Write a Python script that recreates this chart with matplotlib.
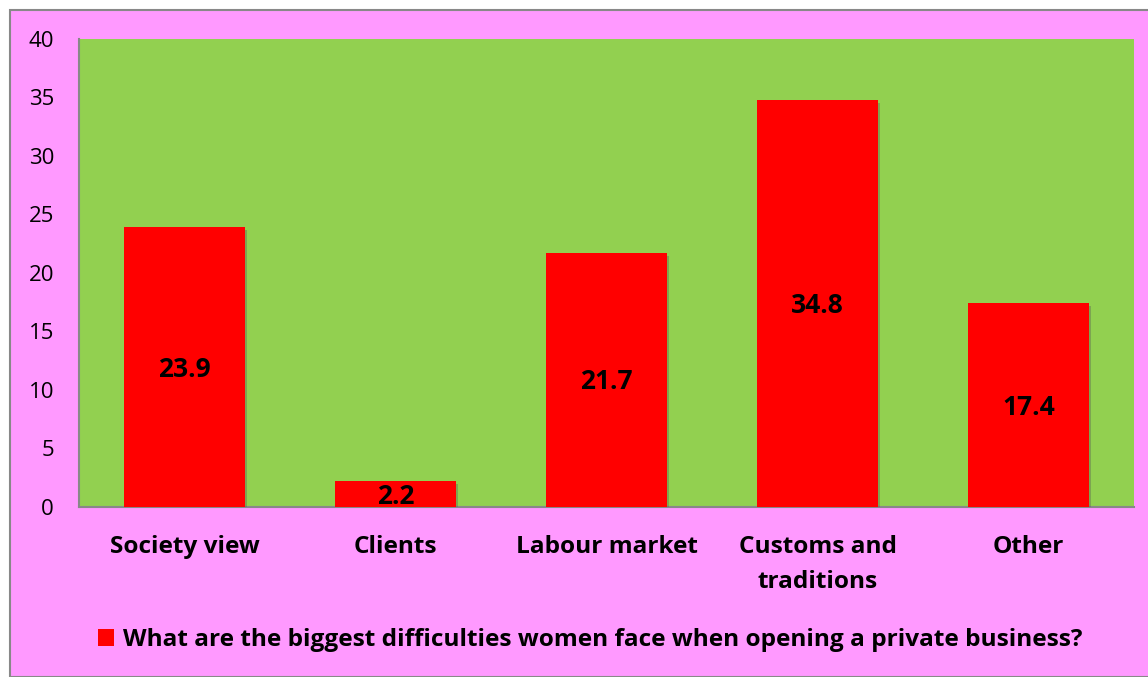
import matplotlib
matplotlib.use("Agg")
import matplotlib.pyplot as plt
from matplotlib.patches import Rectangle, Patch
import matplotlib.patheffects as pe

categories = ["Society view", "Clients", "Labour market", "Customs and\ntraditions", "Other"]
values = [23.9, 2.2, 21.7, 34.8, 17.4]
series_name = "What are the biggest difficulties women face when opening a private business?"
yticks = [0, 5, 10, 15, 20, 25, 30, 35, 40]

PINK = "#FF99FF"
GREEN = "#92D050"
RED = "#FF0000"
FONT = ["Open Sans", "DejaVu Sans"]

W, H = 1148, 677
fig = plt.figure(figsize=(W / 100, H / 100), dpi=100)
fig.patch.set_facecolor("white")
fig.patches.append(Rectangle((10 / W, 0), 1.2, (H - 10) / H, transform=fig.transFigure,
                             facecolor=PINK, edgecolor="#888888", linewidth=1.5, zorder=-5))

ax = fig.add_axes([79 / W, 1 - 507 / H, (1134 - 79) / W, (507 - 39) / H])
ax.set_zorder(2)
ax.set_facecolor(GREEN)
x = list(range(len(categories)))
bars = ax.bar(x, values, width=0.574, color=RED, zorder=3)
for b in bars:
    b.set_path_effects([pe.SimplePatchShadow(offset=(1.5, -2), shadow_rgbFace="#555555", alpha=0.35), pe.Normal()])
VAL_FS = 19
for xi, v in zip(x, values):
    ax.annotate(f"{v}", xy=(xi, v / 2), xytext=(0, -VAL_FS * 0.714 / 2), textcoords="offset points",
                ha="center", va="baseline", fontsize=VAL_FS, fontweight="bold",
                family=FONT, color="black", zorder=4)

ax.set_xlim(-0.5, len(categories) - 0.5)
ax.set_ylim(0, 40)
ax.set_yticks(yticks)
ax.set_yticklabels([str(t) for t in yticks], family=FONT, fontsize=16)
ax.set_xticks(x)
ax.set_xticklabels(categories, family=FONT, fontsize=17.6, fontweight="bold", linespacing=1.6)
ax.tick_params(axis="y", length=0, pad=18)
ax.tick_params(axis="x", length=0, pad=20.5)
for s in ["top", "right"]:
    ax.spines[s].set_visible(False)
for s in ["left", "bottom"]:
    ax.spines[s].set_color("#888888")
    ax.spines[s].set_linewidth(1.5)

leg = fig.legend(handles=[Patch(facecolor=RED, label=series_name)], loc="center",
                 bbox_to_anchor=(590 / W, 1 - 640 / H), frameon=False,
                 prop={"family": FONT, "size": 17.6, "weight": "bold"},
                 handlelength=0.65, handleheight=0.65, handletextpad=0.37)

fig.savefig("out.png", dpi=100, facecolor=fig.get_facecolor())
